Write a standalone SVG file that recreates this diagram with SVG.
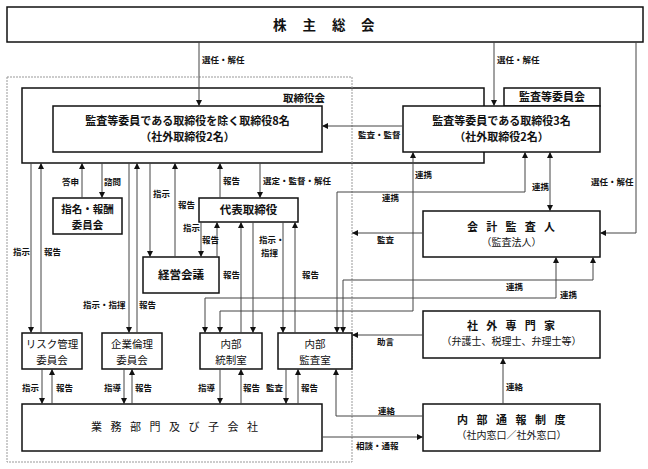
<svg xmlns="http://www.w3.org/2000/svg" width="648" height="469" viewBox="0 0 648 469">
<style>
text{font-family:"Noto Sans CJK JP","Noto Sans CJK SC",sans-serif;fill:#111}
.box{fill:#fff;stroke:#111;stroke-width:1.5}
.open{fill:none;stroke:#111;stroke-width:1.5}
.dash{fill:none;stroke:#999;stroke-width:1;stroke-dasharray:2,1}
.c path{fill:none;stroke:#444;stroke-width:1}
.lbl{font-size:8.5px;font-weight:700}
.b{font-weight:700}
.t11{font-size:11px}
.t105{font-size:10.5px}
.t115{font-size:11.5px}
.t10{font-size:10px}
.m{text-anchor:middle}
</style>
<defs>
<marker id="ah" viewBox="0 0 10 10" refX="10" refY="5" markerWidth="6" markerHeight="6" markerUnits="userSpaceOnUse" orient="auto-start-reverse">
<path d="M0,0 L10,5 L0,10 z" fill="#111"/>
</marker>
</defs>

<g id="shareholders">
<rect class="box" x="7" y="7" width="636" height="35"/>
<text class="b" font-size="13.5" x="273 302.5 332 361" y="30">株主総会</text>
</g>

<g id="board">
<rect class="open" x="22" y="88" width="462" height="75"/>
<text class="b" font-size="10.5" x="283" y="102">取締役会</text>
</g>

<rect id="scope" class="dash" x="7" y="77" width="345" height="385"/>

<g id="directors8">
<rect class="box" x="53" y="106" width="269" height="46"/>
<text class="b t11 m" x="187.5" y="125">監査等委員である取締役を除く取締役8名</text>
<text class="b t11 m" x="187.5" y="141">（社外取締役2名）</text>
</g>

<g id="audit-committee">
<rect class="box" x="504" y="88" width="96" height="18"/>
<text class="b t11 m" x="552" y="101">監査等委員会</text>
</g>

<g id="directors3">
<rect class="box" x="403" y="106" width="197" height="46"/>
<text class="b t11 m" x="501.5" y="125">監査等委員である取締役3名</text>
<text class="b t11 m" x="501.5" y="141">（社外取締役2名）</text>
</g>

<g id="nomination">
<rect class="box" x="53" y="198" width="69" height="36"/>
<text class="b t105 m" x="87.5" y="213">指名・報酬</text>
<text class="b t105 m" x="87.5" y="228.5">委員会</text>
</g>

<g id="management-meeting">
<rect class="box" x="143" y="257" width="76" height="36"/>
<text class="b m" font-size="11.5" x="181" y="279">経営会議</text>
</g>

<g id="ceo">
<rect class="box" x="199" y="198" width="99" height="24"/>
<text class="b t115 m" x="248.5" y="214">代表取締役</text>
</g>

<g id="accounting-auditor">
<rect class="box" x="423" y="211" width="177" height="46"/>
<text class="b t11" x="467 486.25 505.5 524.75 544" y="231">会計監査人</text>
<text class="t10 m" x="511.5" y="246">（監査法人）</text>
</g>

<g id="experts">
<rect class="box" x="423" y="311" width="177" height="47"/>
<text class="b t11" x="467 486.25 505.5 524.75 544" y="330">社外専門家</text>
<text class="t10 m" x="511.5" y="345">（弁護士、税理士、弁理士等）</text>
</g>

<g id="whistleblowing">
<rect class="box" x="423" y="404" width="177" height="47"/>
<text class="b t11" x="457 476.5 496 515.5 535 554.5" y="424">内部通報制度</text>
<text class="t10 m" x="511.5" y="439">（社内窓口／社外窓口）</text>
</g>

<g id="risk">
<rect class="box" x="22" y="333" width="60" height="36"/>
<text class="t105 m" x="52" y="348">リスク管理</text>
<text class="t105 m" x="52" y="363.5">委員会</text>
</g>

<g id="ethics">
<rect class="box" x="102" y="333" width="60" height="36"/>
<text class="t105 m" x="132" y="348">企業倫理</text>
<text class="t105 m" x="132" y="363.5">委員会</text>
</g>

<g id="internal-control">
<rect class="box" x="200" y="333" width="62" height="36"/>
<text class="t105 m" x="231" y="348">内部</text>
<text class="t105 m" x="231" y="363.5">統制室</text>
</g>

<g id="internal-audit">
<rect class="box" x="278" y="333" width="74" height="36"/>
<text class="t105 m" x="315" y="348">内部</text>
<text class="t105 m" x="315" y="363.5">監査室</text>
</g>

<g id="business">
<rect class="box" x="22" y="404" width="300" height="47"/>
<text class="t11" x="91 110.5 130 149.5 169 188.5 208 227.5 247" y="431">業務部門及び子会社</text>
</g>

<g id="connectors" class="c">
<path d="M199,42 V106" marker-end="url(#ah)"/>
<path d="M494,42 V106" marker-end="url(#ah)"/>
<path d="M636,42 V233 H600" marker-end="url(#ah)"/>
<path d="M403,126 H322" marker-end="url(#ah)"/>
<path d="M31,163 V333" marker-end="url(#ah)"/>
<path d="M41,333 V163" marker-end="url(#ah)"/>
<path d="M82,198 V163" marker-end="url(#ah)"/>
<path d="M102,163 V198" marker-end="url(#ah)"/>
<path d="M129,163 V333" marker-end="url(#ah)"/>
<path d="M137,333 V163" marker-end="url(#ah)"/>
<path d="M150,163 V257" marker-end="url(#ah)"/>
<path d="M175,257 V163" marker-end="url(#ah)"/>
<path d="M201,222 V257" marker-end="url(#ah)"/>
<path d="M217,257 V222" marker-end="url(#ah)"/>
<path d="M220,198 V163" marker-end="url(#ah)"/>
<path d="M260,163 V198" marker-end="url(#ah)"/>
<path d="M241,333 V222" marker-end="url(#ah)"/>
<path d="M253,222 V333" marker-end="url(#ah)"/>
<path d="M283,222 V333" marker-end="url(#ah)"/>
<path d="M295,333 V222" marker-end="url(#ah)"/>
<path d="M413,152 V311 H220 V333" marker-start="url(#ah)" marker-end="url(#ah)"/>
<path d="M525,152 V192 H337 V333" marker-start="url(#ah)" marker-end="url(#ah)"/>
<path d="M550,152 V211" marker-start="url(#ah)" marker-end="url(#ah)"/>
<path d="M423,233 H352" marker-end="url(#ah)"/>
<path d="M593,257 V280 H343 V333" marker-start="url(#ah)" marker-end="url(#ah)"/>
<path d="M556,257 V298 H205 V333" marker-start="url(#ah)" marker-end="url(#ah)"/>
<path d="M423,335 H352" marker-end="url(#ah)"/>
<path d="M503,404 V358" marker-end="url(#ah)"/>
<path d="M423,416 H336 V369" marker-end="url(#ah)"/>
<path d="M322,437 H423" marker-end="url(#ah)"/>
<path d="M42,369 V404" marker-end="url(#ah)"/>
<path d="M52,404 V369" marker-end="url(#ah)"/>
<path d="M124,369 V404" marker-end="url(#ah)"/>
<path d="M132,404 V369" marker-end="url(#ah)"/>
<path d="M220,369 V404" marker-end="url(#ah)"/>
<path d="M241,404 V369" marker-end="url(#ah)"/>
<path d="M286,369 V404" marker-end="url(#ah)"/>
<path d="M298,404 V369" marker-end="url(#ah)"/>
</g>

<g id="labels" class="lbl">
<text class="lbl" x="202" y="63">選任・解任</text>
<text class="lbl" x="497" y="63">選任・解任</text>
<text class="lbl" x="591" y="185">選任・解任</text>
<text class="lbl" x="358" y="138">監査・監督</text>
<text class="lbl" x="62" y="185">答申</text>
<text class="lbl" x="104" y="185">諮問</text>
<text class="lbl" x="13" y="255">指示</text>
<text class="lbl" x="44" y="255">報告</text>
<text class="lbl" x="153" y="197">指示</text>
<text class="lbl" x="178" y="208">報告</text>
<text class="lbl" x="183" y="231">指示</text>
<text class="lbl" x="202" y="243">報告</text>
<text class="lbl" x="223" y="184">報告</text>
<text class="lbl" x="263" y="184">選定・監督・解任</text>
<text class="lbl" x="223" y="278">報告</text>
<text class="lbl" x="259" y="243">指示・</text>
<text class="lbl" x="261" y="256">指揮</text>
<text class="lbl" x="302" y="278">報告</text>
<text class="lbl" x="415" y="178">連携</text>
<text class="lbl" x="382" y="201">連携</text>
<text class="lbl" x="532" y="190">連携</text>
<text class="lbl" x="377" y="243">監査</text>
<text class="lbl" x="506" y="290">連携</text>
<text class="lbl" x="560" y="298">連携</text>
<text class="lbl" x="83" y="308">指示・指揮</text>
<text class="lbl" x="139" y="308">報告</text>
<text class="lbl" x="377" y="345">助言</text>
<text class="lbl" x="22" y="391">指示</text>
<text class="lbl" x="56" y="391">報告</text>
<text class="lbl" x="104" y="391">指導</text>
<text class="lbl" x="135" y="391">報告</text>
<text class="lbl" x="198" y="391">指導</text>
<text class="lbl" x="243" y="391">報告</text>
<text class="lbl" x="266" y="391">監査</text>
<text class="lbl" x="301" y="391">報告</text>
<text class="lbl" x="378" y="414">連絡</text>
<text class="lbl" x="356" y="449">相談・通報</text>
<text class="lbl" x="506" y="390">連絡</text>
</g>
</svg>
